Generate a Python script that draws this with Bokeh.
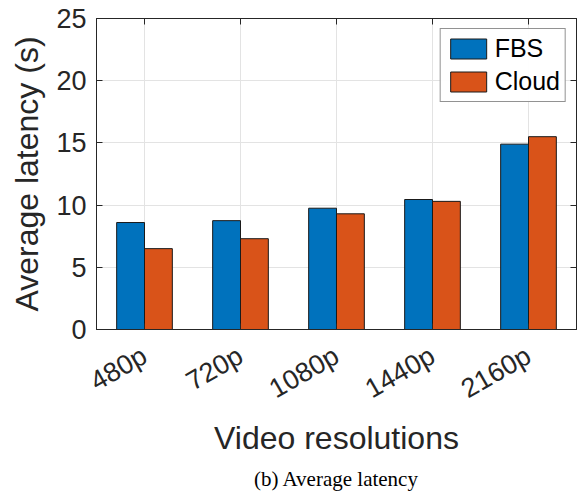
from math import pi
from bokeh.plotting import figure
from bokeh.models import (ColumnDataSource, FactorRange, Range1d, FixedTicker,
                          LinearAxis, CategoricalAxis, Title, Legend, LegendItem)
from bokeh.transform import dodge
from bokeh.embed import file_html
from bokeh.resources import INLINE

categories = ["480p", "720p", "1080p", "1440p", "2160p"]
fbs = [8.6, 8.75, 9.75, 10.45, 14.9]
cloud = [6.5, 7.3, 9.3, 10.3, 15.5]
y_ticks = [0, 5, 10, 15, 20, 25]

src = ColumnDataSource(data=dict(cat=categories, fbs=fbs, cloud=cloud))

TXT = "#262626"
FONT = "Liberation Sans"

p = figure(width=578, height=495, x_range=FactorRange(factors=categories, range_padding=0),
           y_range=Range1d(0, 25), output_backend="svg", toolbar_location=None,
           min_border_left=96, min_border_right=2, min_border_top=18, min_border_bottom=166)
p.background_fill_color = "white"
p.border_fill_color = "white"
p.outline_line_color = TXT
p.outline_line_width = 1

r1 = p.vbar(x=dodge("cat", -0.145, range=p.x_range), top="fbs", width=0.29, source=src,
            fill_color="#0072BD", line_color="#1a1a1a", line_width=1)
r2 = p.vbar(x=dodge("cat", 0.145, range=p.x_range), top="cloud", width=0.29, source=src,
            fill_color="#D95319", line_color="#1a1a1a", line_width=1)

# axes
for ax in (p.xaxis[0], p.yaxis[0]):
    ax.axis_line_color = TXT
    ax.major_tick_line_color = TXT
    ax.major_tick_in = 6
    ax.major_tick_out = 0
    ax.minor_tick_line_color = None
    ax.major_label_text_color = TXT
    ax.major_label_text_font = FONT
    ax.major_label_text_font_size = "27px"
    ax.axis_label_text_font = FONT
    ax.axis_label_text_font_size = "32px"
    ax.axis_label_text_font_style = "normal"
    ax.axis_label_text_color = TXT

p.yaxis.ticker = FixedTicker(ticks=y_ticks)
p.yaxis.axis_label = "Average latency (s)"
p.yaxis.major_label_standoff = 10
p.yaxis.axis_label_standoff = 8

p.xaxis.axis_label = "Video resolutions"
p.xaxis.major_label_orientation = pi / 6
p.xaxis.major_label_standoff = 24
p.xaxis.axis_label_standoff = 0

# top and right tick-only axes (labels not drawn)
top = CategoricalAxis(major_label_text_font_size="1px", major_label_text_color=None,
                      major_tick_in=6, major_tick_out=0,
                      major_tick_line_color=TXT, axis_line_color=TXT, major_label_standoff=0)
p.add_layout(top, "above")
right = LinearAxis(ticker=FixedTicker(ticks=y_ticks), major_label_text_font_size="1px",
                   major_label_text_color=None,
                   major_tick_in=6, major_tick_out=0, minor_tick_line_color=None,
                   major_tick_line_color=TXT, axis_line_color=TXT, major_label_standoff=0)
p.add_layout(right, "right")

p.grid.grid_line_color = "#e3e3e3"
p.grid.grid_line_width = 1

legend = Legend(items=[LegendItem(label="FBS", renderers=[r1]),
                       LegendItem(label="Cloud", renderers=[r2])],
                location="top_right")
legend.label_text_font = FONT
legend.label_text_font_size = "25px"
legend.label_text_color = "black"
legend.glyph_width = 45
legend.glyph_height = 25
legend.label_standoff = 4
legend.padding = 5
legend.spacing = 4
legend.margin = 10
legend.border_line_color = TXT
legend.border_line_width = 1
p.add_layout(legend)

cap = Title(text="(b) Average latency", align="center", text_font="Liberation Serif",
            text_font_size="21px", text_font_style="normal", text_color="black")
p.add_layout(cap, "below")

open("out.html", "w").write(file_html(p, INLINE))
